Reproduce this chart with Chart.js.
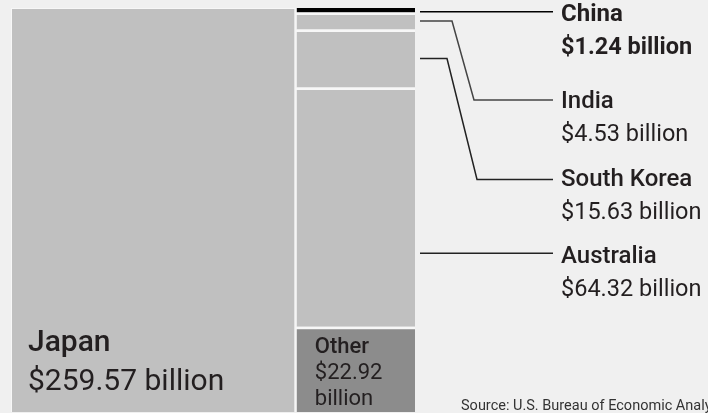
<!DOCTYPE html>
<html>
<head>
<meta charset="utf-8">
<script src="https://cdn.jsdelivr.net/npm/chart.js@4"></script>
<style>
  html, body { margin: 0; padding: 0; background: #f0f0f0; }
  canvas { display: block; }
</style>
</head>
<body>
<canvas id="chart" width="708" height="413"></canvas>
<script>
// data (billions of dollars)
const mainName = 'Japan';
const mainValue = 259.57;
const countries = ['China', 'India', 'South Korea', 'Australia', 'Other'];
const values = [1.24, 4.53, 15.63, 64.32, 22.92];
const colors = ['#000000', '#c0c0c0', '#c0c0c0', '#c0c0c0', '#8c8c8c'];
const sourceText = 'Source: U.S. Bureau of Economic Analysis';

const restTotal = values.reduce((a, b) => a + b, 0);
const grandTotal = mainValue + restTotal;

// both column centres are grandTotal/2 apart, so bar width = share * 2
const mainPct = 2 * mainValue / grandTotal;
const restPct = 2 * restTotal / grandTotal;

const datasets = [{
  label: mainName,
  data: [{ x: mainValue / 2, y: mainValue }],
  yAxisID: 'yMain',
  backgroundColor: '#c0c0c0',
  borderColor: '#f7f7f7',
  borderWidth: { top: 1, left: 1, right: 1.5, bottom: 0 },
  barPercentage: mainPct
}];
// stack from the bottom up: Other first, China last
for (let i = countries.length - 1; i >= 0; i--) {
  datasets.push({
    label: countries[i],
    data: [{ x: mainValue + restTotal / 2, y: values[i] }],
    yAxisID: 'yRest',
    backgroundColor: colors[i],
    borderColor: '#f7f7f7',
    borderWidth: { top: i === 0 ? 0 : 2.5, left: 1, right: 0, bottom: 0 },
    barPercentage: restPct
  });
}

// callout positions for the labels on the right
const callouts = {
  'China': { lineY: 11.7, textY: 21, bold: true, color: '#000' },
  'India': { lineY: 100, textY: 108, elbow: [452, 474], color: '#444' },
  'South Korea': { lineY: 179.5, textY: 186, elbow: [447, 477], color: '#222' },
  'Australia': { lineY: 253.3, textY: 263, color: '#222' }
};

function metaFor(chart, name) {
  const i = chart.data.datasets.findIndex(d => d.label === name);
  return chart.getDatasetMeta(i).data[0];
}

const labelPlugin = {
  id: 'labels',
  afterDatasetsDraw(chart) {
    const ctx = chart.ctx;
    ctx.save();
    ctx.fillStyle = '#231f20';
    ctx.textBaseline = 'alphabetic';
    ctx.textAlign = 'left';

    // Japan inside its block
    const jb = metaFor(chart, mainName);
    const jLeft = jb.x - jb.width / 2;
    ctx.font = '500 30px Roboto';
    ctx.fillText(mainName, jLeft + 17, jb.base - 61);
    ctx.font = '400 30px Roboto';
    ctx.fillText('$' + mainValue.toFixed(2) + ' billion', jLeft + 17, jb.base - 22);

    // Other inside its block
    const oi = countries.indexOf('Other');
    const ob = metaFor(chart, 'Other');
    const oLeft = ob.x - ob.width / 2;
    ctx.font = '500 22px Roboto';
    ctx.fillText('Other', oLeft + 19, ob.y + 26);
    ctx.font = '400 22px Roboto';
    ctx.fillText('$' + values[oi].toFixed(2), oLeft + 19, ob.y + 52);
    ctx.fillText('billion', oLeft + 19, ob.y + 78);

    // callouts
    const lineEnd = 553, textX = 561;
    countries.forEach((name, i) => {
      const c = callouts[name];
      if (!c) return;
      const b = metaFor(chart, name);
      const x0 = b.x + b.width / 2 + 5;
      ctx.strokeStyle = c.color;
      ctx.lineWidth = 1.5;
      ctx.beginPath();
      if (c.elbow) {
        const ys = (b.y + b.base) / 2;
        ctx.moveTo(x0, ys);
        ctx.lineTo(c.elbow[0], ys);
        ctx.lineTo(c.elbow[1], c.lineY);
        ctx.lineTo(lineEnd, c.lineY);
      } else {
        ctx.moveTo(x0, c.lineY);
        ctx.lineTo(lineEnd, c.lineY);
      }
      ctx.stroke();

      ctx.font = (c.bold ? '700' : '500') + ' 24px Roboto';
      ctx.fillText(name, textX, c.textY);
      ctx.font = (c.bold ? '700' : '400') + ' 23.5px Roboto';
      ctx.fillText('$' + values[i].toFixed(2) + ' billion', textX, c.textY + 32.5);
    });

    // source note
    ctx.font = '400 14.5px Roboto';
    ctx.fillStyle = '#333';
    ctx.fillText(sourceText, 461, 410);
    ctx.restore();
  }
};

new Chart(document.getElementById('chart'), {
  type: 'bar',
  data: { datasets: datasets },
  options: {
    responsive: false,
    animation: false,
    layout: { padding: { left: 11, right: 293, top: 8, bottom: 1 } },
    plugins: { legend: { display: false }, tooltip: { enabled: false } },
    datasets: { bar: { grouped: false, categoryPercentage: 1, borderSkipped: false } },
    scales: {
      x: {
        type: 'linear', min: 0, max: grandTotal, offset: false, display: false,
        afterBuildTicks: (scale) => { scale.ticks = [{ value: 0 }, { value: grandTotal }]; }
      },
      yMain: { type: 'linear', stacked: true, min: 0, max: mainValue, display: false },
      yRest: { type: 'linear', stacked: true, min: 0, max: restTotal, display: false }
    }
  },
  plugins: [labelPlugin]
});
</script>
</body>
</html>
